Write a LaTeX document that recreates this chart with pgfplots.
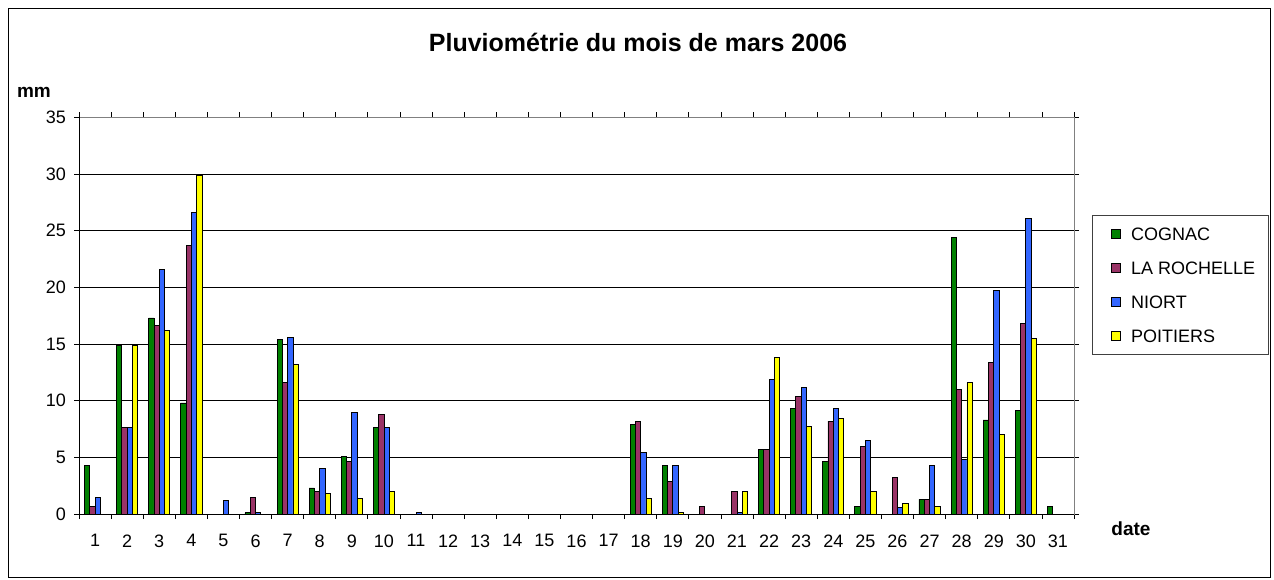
\documentclass[border=0pt]{standalone}
\usepackage{pgfplots}
\pgfplotsset{compat=1.18}
\usepackage{pgfplotstable}
\usepackage{fontspec}
\setmainfont{Liberation Sans}
\definecolor{cgreen}{RGB}{0,128,0}
\definecolor{cpurple}{RGB}{153,51,102}
\definecolor{cblue}{RGB}{51,102,255}
\definecolor{cyellow}{RGB}{255,255,0}
\pgfplotstableread{
day c lr n p
1 4.3 0.7 1.5 0
2 14.9 7.6 7.6 14.9
3 17.3 16.6 21.6 16.2
4 9.8 23.7 26.6 29.9
5 0 0 1.2 0
6 0.1 1.5 0.1 0
7 15.4 11.6 15.6 13.2
8 2.3 2.0 4.0 1.8
9 5.1 4.6 9.0 1.4
10 7.6 8.8 7.6 2.0
11 0 0 0.1 0
12 0 0 0 0
13 0 0 0 0
14 0 0 0 0
15 0 0 0 0
16 0 0 0 0
17 0 0 0 0
18 7.9 8.2 5.4 1.4
19 4.3 2.9 4.3 0.1
20 0 0.7 0 0
21 0 2.0 0.1 2.0
22 5.7 5.7 11.9 13.8
23 9.3 10.4 11.2 7.7
24 4.6 8.2 9.3 8.4
25 0.7 6.0 6.5 2.0
26 0 3.2 0.6 0.9
27 1.3 1.3 4.3 0.7
28 24.4 11.0 4.8 11.6
29 8.3 13.4 19.7 7.0
30 9.1 16.8 26.1 15.5
31 0.7 0 0 0
}\rain
\begin{document}
\begin{tikzpicture}[x=1pt,y=1pt]
\useasboundingbox (0,0) rectangle (1274,-579);
\draw[black, line width=1pt] (8,-8) rectangle (1270,-577);
\node[font=\fontsize{25}{29}\selectfont\bfseries, anchor=base] at (638,-51.7) {Pluviométrie du mois de mars 2006};
\node[font=\fontsize{19}{22}\selectfont\bfseries, anchor=base] at (34,-97) {mm};
\node[font=\fontsize{19}{22}\selectfont\bfseries, anchor=base] at (1131,-535) {date};
\begin{axis}[
  at={(79pt,-514pt)}, anchor=south west,
  scale only axis, width=995pt, height=396.7pt,
  xmin=0.5, xmax=31.5, ymin=0, ymax=35,
  ybar=0pt, bar width=0.165,
  axis line style={gray, line width=1pt},
  ytick={0,5,...,35},
  ymajorgrids, grid style={black, line width=0.8pt},
  tick align=outside, major tick length=5pt,
  tick style={black, line width=0.8pt},
  xtick={0.5,1.5,...,31.5}, xticklabels={},
  extra x ticks={1,...,31},
  extra x tick labels={1,2,3,4,5,6,7,8,9,10,11,12,13,14,15,16,17,18,19,20,21,22,23,24,25,26,27,28,29,30,31},
  extra x tick style={major tick length=0pt, grid=none},
  ticklabel style={font=\fontsize{18}{21}\selectfont},
  xticklabel style={yshift=-17pt},
  yticklabel style={xshift=-4.5pt},
  /pgf/number format/assume math mode=true,
  legend style={at={(1.01779,0.7537)}, anchor=north west, draw=darkgray, line width=0.8pt,
    font=\fontsize{18}{21}\selectfont, inner xsep=13pt, inner ysep=12pt, row sep=21pt,
    nodes={inner sep=0pt, text height=13pt, text depth=0pt}},
  legend cell align=left,
  legend image code/.code={\path[draw=none, fill=none] (0pt,0pt) -- (26pt,0pt); \draw[#1, line width=0.8pt] (6.3pt,-4.5pt) rectangle (15.3pt,4.5pt);},
  every axis plot/.append style={draw=black, line width=0.8pt},
]
\addplot[fill=cgreen] table[x=day,y=c] {\rain};
\addplot[fill=cpurple] table[x=day,y=lr] {\rain};
\addplot[fill=cblue] table[x=day,y=n] {\rain};
\addplot[fill=cyellow] table[x=day,y=p] {\rain};
\legend{COGNAC, LA ROCHELLE, NIORT, POITIERS}
\draw[black, line width=1pt] (axis cs:0.5,0) -- (axis cs:0.5,35);
\draw[black, line width=1pt] (axis cs:0.5,0) -- (axis cs:31.5,0);
\end{axis}
\end{tikzpicture}
\end{document}
